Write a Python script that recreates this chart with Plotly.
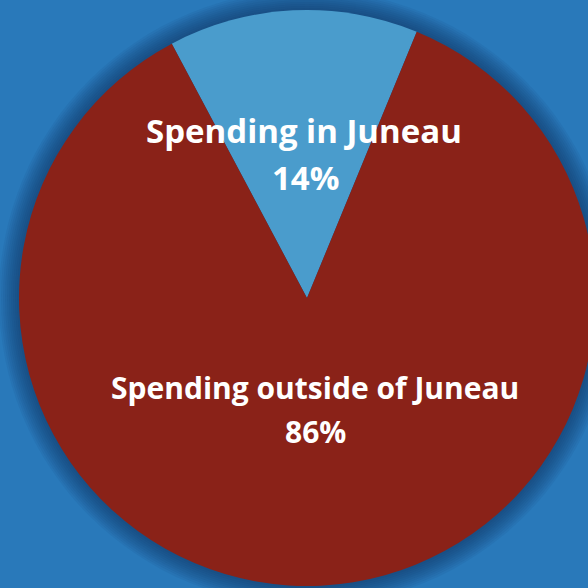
import plotly.graph_objects as go

labels = ["Spending in Juneau", "Spending outside of Juneau"]
values = [14, 86]
colors = ["#4a9ccc", "#8a2218"]

W, H = 600, 600
cx, cy, r = 307, 298, 288  # pixel geometry of pie

fig = go.Figure()
fig.add_trace(go.Pie(
    labels=labels, values=values, sort=False, direction="clockwise",
    rotation=-28, textinfo="none", hoverinfo="label+percent",
    marker=dict(colors=colors, line=dict(width=0)),
    domain=dict(x=[(cx - r) / W, (cx + r) / W], y=[1 - (cy + r) / H, 1 - (cy - r) / H]),
    showlegend=False,
))

# soft shadow around the pie
shapes = []
for d in range(20, 0, -2):
    shapes.append(dict(type="circle", xref="paper", yref="paper", layer="below",
                       x0=(cx - r - d) / W, x1=(cx + r + d) / W,
                       y0=1 - (cy + r + d) / H, y1=1 - (cy - r - d) / H,
                       fillcolor="rgba(15,50,90,0.065)", line=dict(width=0)))

pct = [f"{v}%" for v in values]
sizes = [33, 30]
ann_pos = [((304, 130), (305, 178)), ((315, 387), (316, 431))]
annotations = []
for lab, p, s, (p1, p2) in zip(labels, pct, sizes, ann_pos):
    font = dict(family="Open Sans, Lato, sans-serif", size=s, color="white", weight="bold")
    annotations.append(dict(text=lab, x=p1[0] / W, y=1 - p1[1] / H, xref="paper", yref="paper",
                            showarrow=False, font=font, xanchor="center", yanchor="middle"))
    annotations.append(dict(text=p, x=p2[0] / W, y=1 - p2[1] / H, xref="paper", yref="paper",
                            showarrow=False, font=font, xanchor="center", yanchor="middle"))

fig.update_layout(width=W, height=H, margin=dict(l=0, r=0, t=0, b=0),
                  paper_bgcolor="#2979ba", plot_bgcolor="#2979ba",
                  shapes=shapes, annotations=annotations)
fig.write_html("out.html", config={"displayModeBar": False}, post_script=(
    "document.body.style.margin='0';document.body.style.overflow='hidden';"
    "document.documentElement.style.overflow='hidden';"
    "document.body.style.background='#2979ba';"))
